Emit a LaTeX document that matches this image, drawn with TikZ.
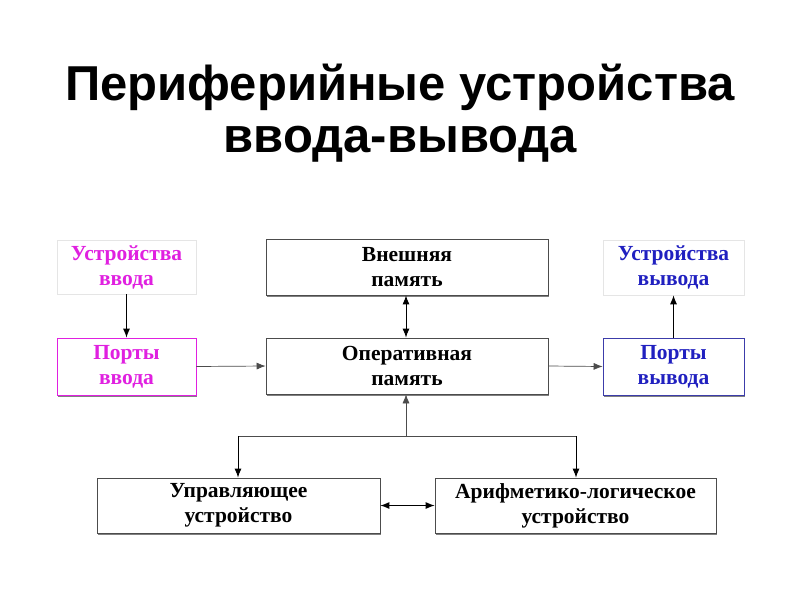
\documentclass[tikz,border=0pt]{standalone}
\usepackage{fontspec}
\setmainfont{Liberation Serif}
\newfontfamily\titlefont{Liberation Sans}
\usetikzlibrary{arrows.meta,shadows}
\definecolor{mag}{RGB}{224,32,224}
\definecolor{blu}{RGB}{32,32,192}
\definecolor{pblu}{RGB}{60,60,170}
\begin{document}
\begin{tikzpicture}[x=1pt,y=-1pt,
  box/.style={draw=black!70, line width=0.7pt, fill=white, align=center, inner sep=0pt,
    font=\bfseries\fontsize{21.5}{25}\selectfont,
    drop shadow={shadow xshift=1.2pt, shadow yshift=-1.8pt, fill=black!50, opacity=1}},
  lightbox/.style={draw=black!10, line width=0.6pt, fill=white, align=center, inner sep=0pt,
    font=\bfseries\fontsize{21.5}{25}\selectfont},
  arr/.style={-{Latex[length=9pt,width=7pt]}, line width=1pt},
  darr/.style={{Latex[length=9pt,width=7pt]}-{Latex[length=9pt,width=7pt]}, line width=1pt},
  thinln/.style={line width=0.7pt, draw=black!70}]
\useasboundingbox (0,0) rectangle (800,600);
\fill[white] (0,0) rectangle (800,600);
\node[font=\titlefont\bfseries\fontsize{49}{52}\selectfont, align=center] (title) at (400,113)
  {Периферийные устройства\\ввода-вывода};
\node[lightbox, minimum width=139pt, minimum height=54pt, text=mag] (uin) at (126.5,267) {Устройства\\ввода};
\node[box, draw=mag, minimum width=139pt, minimum height=57pt, text=mag] (pin) at (126.5,366.5) {Порты\\ввода};
\node[box, minimum width=282pt, minimum height=56pt] (ext) at (407,267) {Внешняя\\память};
\node[box, minimum width=282pt, minimum height=56pt] (ram) at (407,366) {Оперативная\\память};
\node[lightbox, minimum width=141pt, minimum height=55pt, text=blu] (uout) at (673.5,267.5) {Устройства\\вывода};
\node[box, draw=pblu, minimum width=141pt, minimum height=57pt, text=blu] (pout) at (673.5,366.5) {Порты\\вывода};
\node[box, minimum width=283pt, minimum height=55pt] (cu) at (238.5,505.5) {Управляющее\\устройство};
\node[box, minimum width=281pt, minimum height=55pt] (alu) at (575.5,505.5) {Арифметико-логическое\\устройство};
\coordinate (j) at (406,436);
\coordinate (jl) at (238,436);
\coordinate (jr) at (576,436);
\draw[arr] (uin.south) -- (pin.north);
\draw[arr, thinln] (pin.east) -- (ram.west);
\draw[arr, thinln] (ram.east) -- (pout.west);
\draw[arr] (pout.north) -- (uout.south);
\draw[darr] (ext.south -| j) -- (ram.north -| j);
\draw[arr, thinln] (j) -- (ram.south -| j);
\draw[thinln] (jl) -- (jr);
\draw[arr] (jl) -- (cu.north -| jl);
\draw[arr] (jr) -- (alu.north -| jr);
\draw[darr] (cu.east) -- (alu.west);
\end{tikzpicture}
\end{document}
